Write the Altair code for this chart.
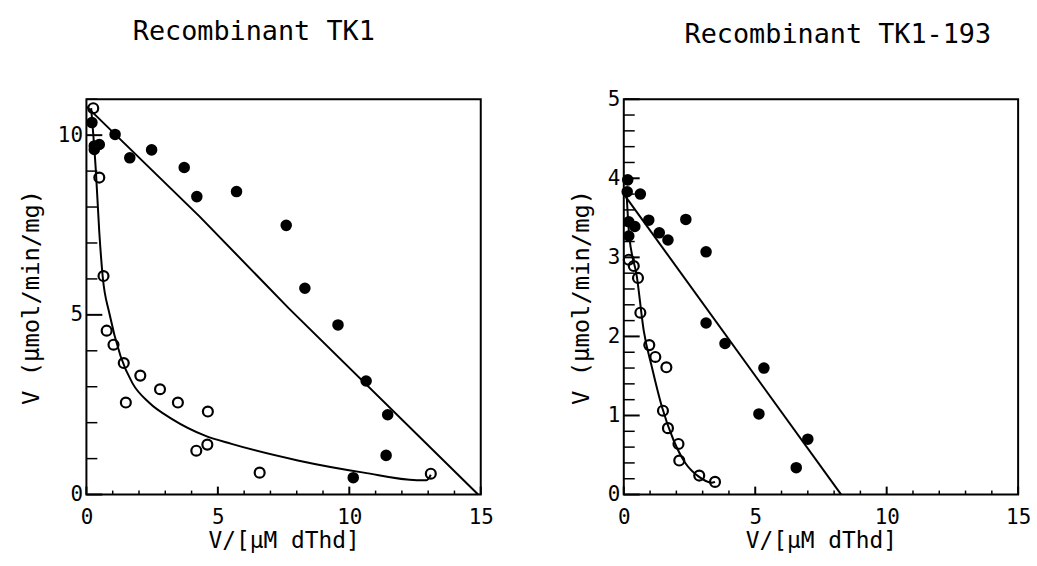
import altair as alt
import pandas as pd

FONT = "DejaVu Sans Mono"

# ---------------- Left panel: Recombinant TK1 ----------------
tk1_filled_x = [0.21, 0.30, 0.30, 0.49, 1.09, 1.65, 2.48, 3.72, 4.20, 5.71, 7.60, 8.31, 9.57, 10.64, 11.46, 11.40, 10.15]
tk1_filled_y = [10.35, 9.60, 9.70, 9.74, 10.02, 9.37, 9.59, 9.10, 8.29, 8.43, 7.49, 5.74, 4.72, 3.16, 2.22, 1.09, 0.47]
tk1_open_x = [0.26, 0.49, 0.65, 0.77, 1.03, 1.42, 2.05, 2.80, 3.48, 4.62, 1.50, 4.18, 4.60, 6.59, 13.10]
tk1_open_y = [10.75, 8.82, 6.08, 4.56, 4.17, 3.66, 3.31, 2.93, 2.56, 2.31, 2.56, 1.22, 1.39, 0.61, 0.58]
tk1_fit1_x = [0.0, 4.3, 7.7, 14.9]
tk1_fit1_y = [10.8, 7.74, 5.18, 0.0]
tk1_fit2_x = [0.18, 0.36, 0.49, 0.62, 0.87, 1.30, 1.75, 2.38, 3.26, 4.51, 5.52, 8.04, 10.55, 12.57, 12.94, 13.10]
tk1_fit2_y = [10.75, 9.0, 7.3, 6.06, 5.05, 3.85, 3.10, 2.56, 2.10, 1.64, 1.41, 0.95, 0.61, 0.40, 0.40, 0.55]

# ---------------- Right panel: Recombinant TK1-193 ----------------
tk193_filled_x = [0.15, 0.13, 0.63, 0.95, 0.42, 0.19, 0.19, 1.35, 1.68, 2.36, 3.13, 3.13, 3.85, 5.33, 5.14, 7.00, 6.56]
tk193_filled_y = [3.98, 3.83, 3.80, 3.47, 3.39, 3.45, 3.27, 3.31, 3.22, 3.48, 3.07, 2.17, 1.91, 1.60, 1.02, 0.70, 0.34]
tk193_open_x = [0.19, 0.38, 0.54, 0.63, 0.97, 1.20, 1.62, 1.49, 1.68, 2.08, 2.11, 2.87, 3.47]
tk193_open_y = [2.97, 2.89, 2.74, 2.30, 1.89, 1.74, 1.61, 1.06, 0.84, 0.64, 0.43, 0.24, 0.16]
tk193_fit1_x = [0.0, 8.27]
tk193_fit1_y = [3.8, 0.0]
tk193_fit2_x = [0.10, 0.20, 0.50, 0.76, 1.07, 1.45, 1.89, 2.34, 2.84, 3.34, 3.47]
tk193_fit2_y = [3.85, 3.30, 2.75, 2.07, 1.61, 1.11, 0.69, 0.40, 0.23, 0.15, 0.16]

x_tick_labels = [0, 5, 10, 15]
x_minor_ticks = list(range(0, 16))
left_y_labels = [0, 5, 10]
left_y_ticks = list(range(0, 12))
right_y_labels = [0, 1, 2, 3, 4, 5]
right_y_ticks = [round(i * 0.2, 1) for i in range(0, 26)]

W, H = 397, 398


def panel(title, fx, fy, ox, oy, l1x, l1y, l2x, l2y, ymax, ylabels, yticks, ymajor_step, tdx, toff):
    filled = pd.DataFrame({"x": fx, "y": fy})
    opened = pd.DataFrame({"x": ox, "y": oy})
    line1 = pd.DataFrame({"x": l1x, "y": l1y, "i": range(len(l1x))})
    line2 = pd.DataFrame({"x": l2x, "y": l2y, "i": range(len(l2x))})
    xs = alt.Scale(domain=[0, 15], nice=False, zero=False)
    ys = alt.Scale(domain=[0, ymax], nice=False, zero=False)
    xax = alt.Axis(values=x_tick_labels, ticks=False, domain=False, grid=False, format="d",
                   labelFont=FONT, labelFontSize=21, labelPadding=12, labelColor="black",
                   title="V/[μM dThd]", titleFont=FONT, titleFontSize=23, titleFontWeight="normal",
                   titleColor="black", titlePadding=2, labelFlush=False)
    yax = alt.Axis(values=ylabels, ticks=False, domain=False, grid=False, format="d",
                   labelFont=FONT, labelFontSize=21, labelPadding=4, labelColor="black",
                   title="V (μmol/min/mg)", titleFont=FONT, titleFontSize=24, titleFontWeight="normal",
                   titleColor="black", titlePadding=14, labelFlush=False)

    line_a = alt.Chart(line1).mark_line(color="black", strokeWidth=2).encode(
        x=alt.X("x:Q", scale=xs, axis=xax), y=alt.Y("y:Q", scale=ys, axis=yax), order="i:Q")
    line_b = alt.Chart(line2).mark_line(color="black", strokeWidth=2, interpolate="monotone").encode(
        x=alt.X("x:Q", scale=xs), y=alt.Y("y:Q", scale=ys), order="i:Q")
    filled_layer = alt.Chart(filled).mark_circle(color="black", size=135, opacity=1).encode(
        x=alt.X("x:Q", scale=xs), y=alt.Y("y:Q", scale=ys))
    open_layer = alt.Chart(opened).mark_point(shape="circle", filled=False, color="black",
                                             size=100, strokeWidth=2.2, opacity=1).encode(
        x=alt.X("x:Q", scale=xs), y=alt.Y("y:Q", scale=ys))

    ytk = pd.DataFrame({"t": yticks})
    ytk["major"] = [abs((v / ymajor_step) - round(v / ymajor_step)) < 1e-6 for v in yticks]
    ytick_minor = alt.Chart(ytk[~ytk["major"]]).mark_rule(color="black", strokeWidth=1.5).encode(
        y=alt.Y("t:Q", scale=ys), x=alt.value(0), x2=alt.value(11))
    ytick_major = alt.Chart(ytk[ytk["major"]]).mark_rule(color="black", strokeWidth=2).encode(
        y=alt.Y("t:Q", scale=ys), x=alt.value(0), x2=alt.value(16))

    xtk = pd.DataFrame({"t": x_minor_ticks})
    xtk["major"] = [v % 5 == 0 for v in x_minor_ticks]
    xtick_minor = alt.Chart(xtk[~xtk["major"]]).mark_rule(color="black", strokeWidth=1.5).encode(
        x=alt.X("t:Q", scale=xs), y=alt.value(H), y2=alt.value(H - 4))
    xtick_major = alt.Chart(xtk[xtk["major"]]).mark_rule(color="black", strokeWidth=2).encode(
        x=alt.X("t:Q", scale=xs), y=alt.value(H), y2=alt.value(H - 8))

    return alt.layer(line_a, line_b, filled_layer, open_layer, ytick_minor, ytick_major,
                     xtick_minor, xtick_major).properties(
        width=W, height=H,
        title=alt.TitleParams(title, font=FONT, fontSize=27, fontWeight="normal",
                              color="black", offset=toff, anchor="middle", dx=tdx))


left = panel("Recombinant TK1", tk1_filled_x, tk1_filled_y, tk1_open_x, tk1_open_y,
             tk1_fit1_x, tk1_fit1_y, tk1_fit2_x, tk1_fit2_y, 11, left_y_labels, left_y_ticks, 5, -30, 53)
right = panel("Recombinant TK1-193", tk193_filled_x, tk193_filled_y, tk193_open_x, tk193_open_y,
              tk193_fit1_x, tk193_fit1_y, tk193_fit2_x, tk193_fit2_y, 5, right_y_labels, right_y_ticks, 1, 17, 40)

chart = alt.hconcat(left, right, spacing=74).properties(
    padding={"left": 18, "top": 15, "right": 5, "bottom": 5}
).configure_view(stroke="black", strokeWidth=2)

chart.save("out.html", embed_options={"renderer": "svg", "actions": False})
